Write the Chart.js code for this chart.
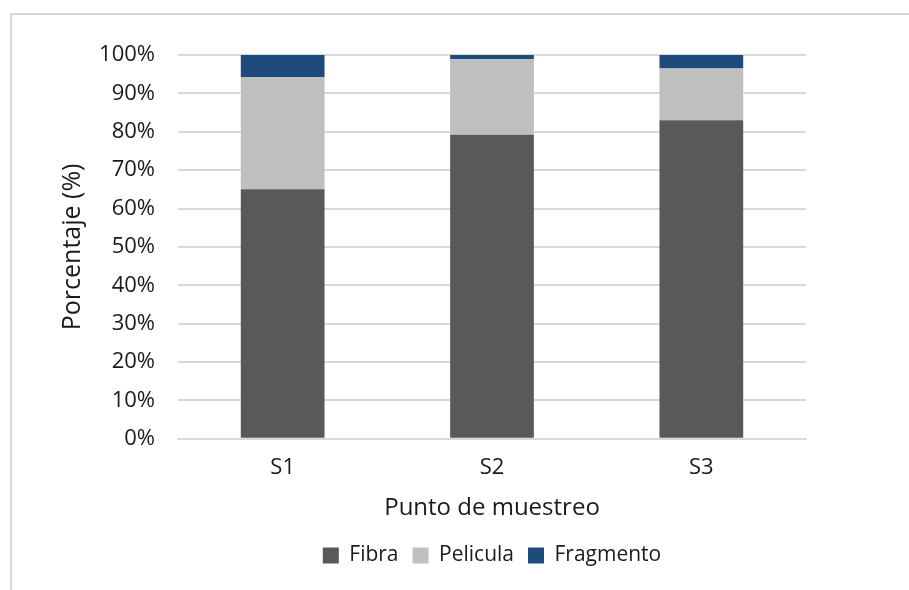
<!DOCTYPE html>
<html>
<head>
<meta charset="utf-8">
<script src="https://cdn.jsdelivr.net/npm/chart.js@4/dist/chart.umd.min.js"></script>
<style>
  html, body { margin: 0; padding: 0; background: #fff; }
  body { width: 909px; height: 590px; position: relative; overflow: hidden; }
  .frame { position: absolute; left: 10px; top: 13px; width: 1000px; height: 700px;
           border-left: 2px solid #d9d9d9; border-top: 2px solid #d9d9d9; box-sizing: border-box; }
  #wrap { position: absolute; left: 0; top: 0; width: 909px; height: 590px; }
</style>
</head>
<body>
<div class="frame"></div>
<div id="wrap"><canvas id="c" width="909" height="590"></canvas></div>
<script>
// Sampling points and composition of each sample (percent of particles)
const categories = ['S1', 'S2', 'S3'];
const fibra = [65.0, 79.2, 83.0];
const pelicula = [29.2, 19.7, 13.5];
const fragmento = [5.8, 1.1, 3.5];
const yTicks = [0, 10, 20, 30, 40, 50, 60, 70, 80, 90, 100];

const FONT = "'Open Sans', 'Liberation Sans', sans-serif";
const TEXT = '#1a1a1a';
const GRID = '#d9d9d9';

new Chart(document.getElementById('c'), {
  type: 'bar',
  data: {
    labels: categories,
    datasets: [
      { label: 'Fibra', data: fibra, backgroundColor: '#595959' },
      { label: 'Pelicula', data: pelicula, backgroundColor: '#bfbfbf' },
      { label: 'Fragmento', data: fragmento, backgroundColor: '#1f4a7c' }
    ]
  },
  options: {
    responsive: false,
    animation: false,
    devicePixelRatio: 1,
    layout: { padding: { left: 58, right: 103, top: 55, bottom: 14 } },
    datasets: { bar: { categoryPercentage: 1, barPercentage: 0.4, borderWidth: 0 } },
    plugins: {
      legend: {
        position: 'bottom',
        fullSize: false,
        labels: {
          font: { family: FONT, size: 21 },
          color: TEXT,
          boxWidth: 16, boxHeight: 16,
          padding: 14
        }
      },
      tooltip: { enabled: false }
    },
    scales: {
      x: {
        stacked: true,
        grid: { display: false },
        border: { color: GRID, width: 2 },
        ticks: { font: { family: FONT, size: 22 }, color: TEXT, padding: 8 },
        title: { display: true, text: 'Punto de muestreo', font: { family: FONT, size: 24 }, color: TEXT, padding: { top: 5, bottom: 8 } }
      },
      y: {
        stacked: true,
        min: 0, max: 100,
        afterBuildTicks: (s) => { s.ticks = yTicks.map(v => ({ value: v })); },
        afterFit: (s) => { s.width = 120; },
        grid: { color: GRID, lineWidth: 2, drawTicks: false },
        border: { display: false },
        ticks: { font: { family: FONT, size: 22 }, color: TEXT, padding: 23, callback: v => v + '%' },
        title: { display: true, text: 'Porcentaje (%)', font: { family: FONT, size: 25 }, color: TEXT, padding: { top: 0, bottom: 6 } }
      }
    }
  }
});
</script>
</body>
</html>
